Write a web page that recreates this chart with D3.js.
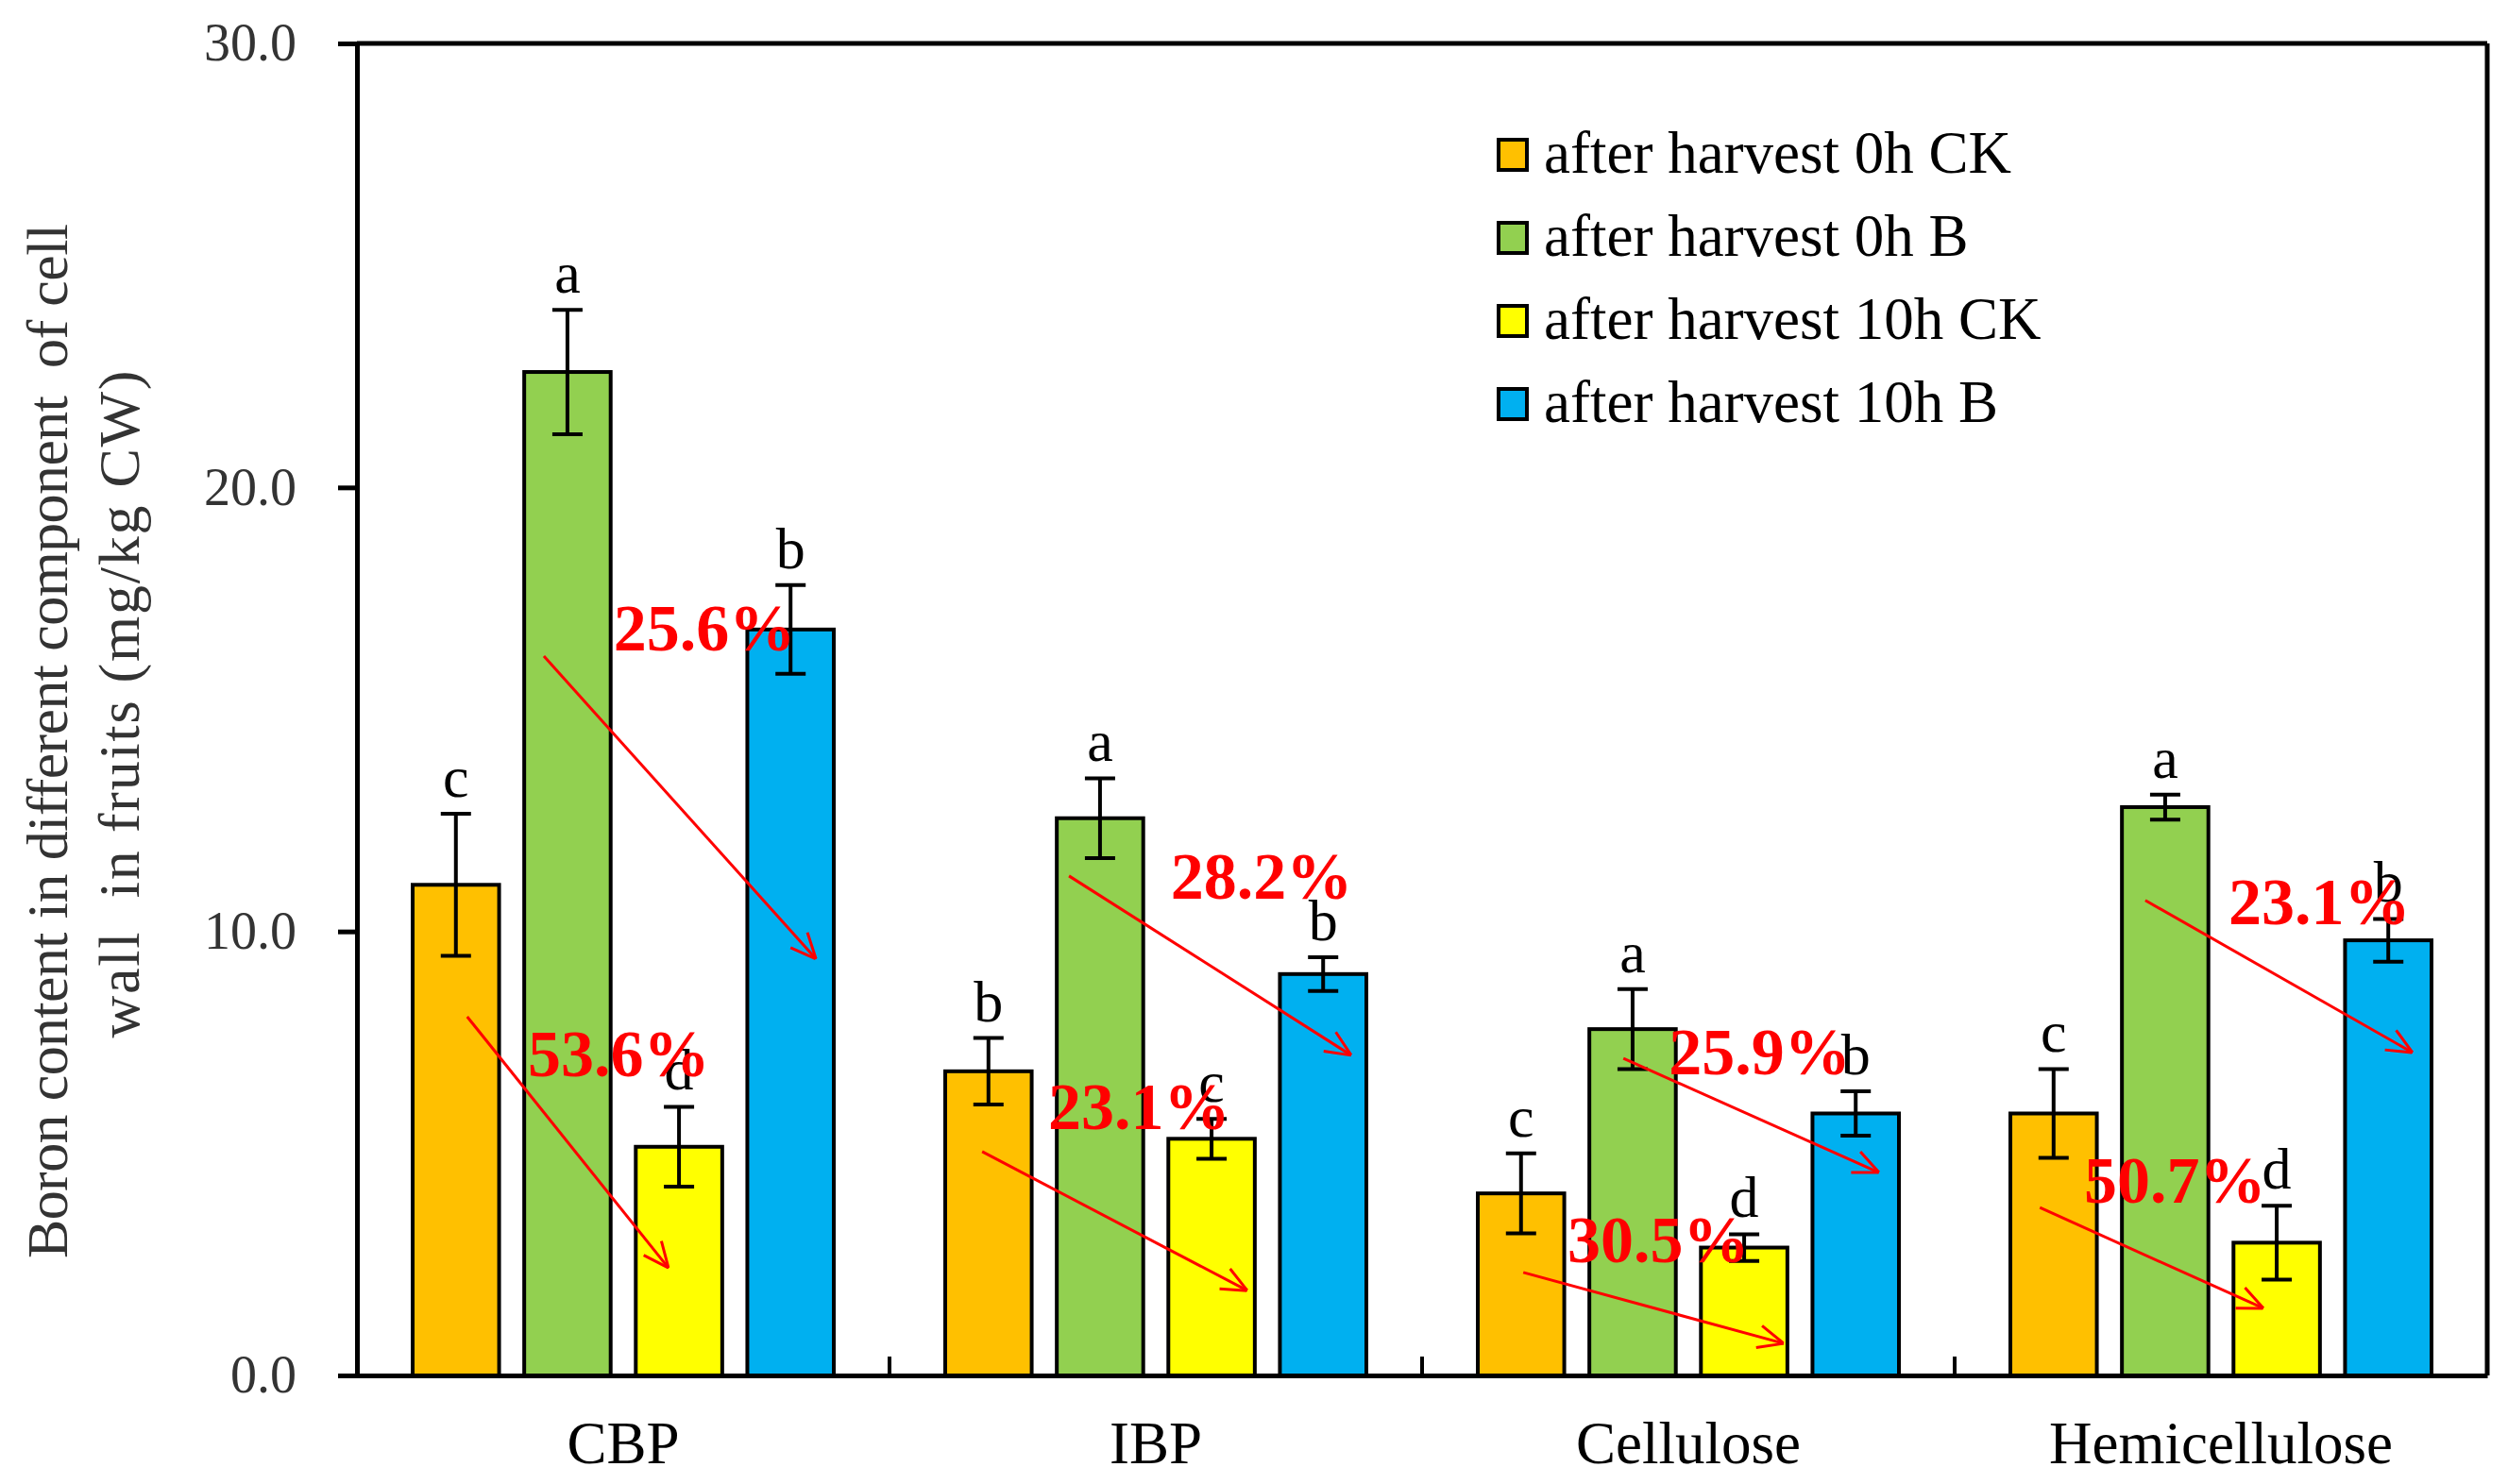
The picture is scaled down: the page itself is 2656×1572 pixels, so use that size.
<!DOCTYPE html>
<html>
<head>
<meta charset="utf-8">
<script src="https://cdn.jsdelivr.net/npm/d3@7"></script>
<style>
  body { margin: 0; background: #fff; }
  text { font-family: "Times New Roman", "Liberation Serif", serif; }
</style>
</head>
<body>
<svg id="chart" width="2656" height="1572"></svg>
<script>
const categories = ["CBP", "IBP", "Cellulose", "Hemicellulose"];
const seriesNames = [
    "after harvest 0h CK",
    "after harvest 0h B",
    "after harvest 10h CK",
    "after harvest 10h B"
];
const seriesColors = ["#FFC000", "#92D050", "#FFFF00", "#00B0F0"];

// means per series, one value per category
const ck0h = [11.05, 6.85, 4.10, 5.90];
const b0h = [22.60, 12.55, 7.80, 12.80];
const ck10h = [5.15, 5.33, 2.88, 2.99];
const b10h = [16.80, 9.04, 5.90, 9.80];

// error bar half lengths
const ck0hErr = [1.60, 0.75, 0.90, 1.00];
const b0hErr = [1.40, 0.90, 0.90, 0.28];
const ck10hErr = [0.90, 0.45, 0.30, 0.83];
const b10hErr = [1.00, 0.38, 0.50, 0.48];

// significance letters
const ck0hSig = ["c", "b", "c", "c"];
const b0hSig = ["a", "a", "a", "a"];
const ck10hSig = ["d", "c", "d", "d"];
const b10hSig = ["b", "b", "b", "b"];

const yTicks = [0, 10, 20, 30];

// decrease annotations: category, label, label position (band fraction, value),
// arrow start and end (band fraction, value)
const pctCategory = [0, 0, 1, 1, 2, 2, 3, 3];
const pctText = ["25.6%", "53.6%", "28.2%", "23.1%", "25.9%", "30.5%", "23.1%", "50.7%"];
const pctLabelFrac = [0.482, 0.321, 0.528, 0.298, 0.463, 0.273, 0.514, 0.243];
const pctLabelValue = [16.33, 6.74, 10.74, 5.55, 6.78, 2.55, 10.16, 3.89];
const arrowFromFrac = [0.351, 0.207, 0.337, 0.174, 0.378, 0.190, 0.358, 0.160];
const arrowFromValue = [16.20, 8.08, 11.25, 5.04, 7.14, 2.32, 10.70, 3.78];
const arrowToFrac = [0.862, 0.585, 0.867, 0.672, 0.858, 0.679, 0.860, 0.580];
const arrowToValue = [9.38, 2.42, 7.21, 1.91, 4.57, 0.72, 7.27, 1.51];

const seriesValues = [ck0h, b0h, ck10h, b10h];
const seriesErrors = [ck0hErr, b0hErr, ck10hErr, b10hErr];
const seriesLetters = [ck0hSig, b0hSig, ck10hSig, b10hSig];

const plotLeft = 378, plotRight = 2634, plotTop = 46, plotBottom = 1457;

const svg = d3.select("#chart");

const x0 = d3.scaleBand()
    .domain(categories)
    .range([plotLeft, plotRight]);

const x1 = d3.scaleBand()
    .domain(d3.range(seriesNames.length))
    .range([59, x0.bandwidth() - 59])
    .paddingInner(0.225);

const y = d3.scaleLinear()
    .domain([0, 30])
    .range([plotBottom, plotTop]);

function bandX(cat, frac) {
    return x0(categories[cat]) + frac * x0.bandwidth();
}

// flat table for bars
const rows = [];
categories.forEach(function (c, ci) {
    seriesNames.forEach(function (s, si) {
        rows.push({
            cat: c,
            series: si,
            value: seriesValues[si][ci],
            err: seriesErrors[si][ci],
            letter: seriesLetters[si][ci]
        });
    });
});

// bars
svg.append("g")
    .selectAll("rect")
    .data(rows)
    .join("rect")
    .attr("x", function (d) { return x0(d.cat) + x1(d.series); })
    .attr("y", function (d) { return y(d.value); })
    .attr("width", x1.bandwidth())
    .attr("height", function (d) { return y(0) - y(d.value); })
    .attr("fill", function (d) { return seriesColors[d.series]; })
    .attr("stroke", "#000")
    .attr("stroke-width", 4);

// error bars
const eb = svg.append("g")
    .attr("stroke", "#000")
    .attr("stroke-width", 4);
rows.forEach(function (d) {
    const cx = x0(d.cat) + x1(d.series) + x1.bandwidth() / 2;
    const y1 = y(d.value + d.err), y2 = y(d.value - d.err);
    eb.append("line").attr("x1", cx).attr("x2", cx).attr("y1", y1).attr("y2", y2);
    eb.append("line").attr("x1", cx - 16).attr("x2", cx + 16).attr("y1", y1).attr("y2", y1);
    eb.append("line").attr("x1", cx - 16).attr("x2", cx + 16).attr("y1", y2).attr("y2", y2);
});

// significance letters
svg.append("g")
    .selectAll("text")
    .data(rows)
    .join("text")
    .attr("x", function (d) { return x0(d.cat) + x1(d.series) + x1.bandwidth() / 2; })
    .attr("y", function (d) { return y(d.value + d.err) - 18; })
    .attr("text-anchor", "middle")
    .attr("font-size", 62)
    .attr("fill", "#000")
    .text(function (d) { return d.letter; });

// arrows
svg.append("defs").append("marker")
    .attr("id", "head")
    .attr("viewBox", "0 0 10 10")
    .attr("refX", 10)
    .attr("refY", 5)
    .attr("markerUnits", "userSpaceOnUse")
    .attr("orient", "auto")
    .attr("markerWidth", 30)
    .attr("markerHeight", 30)
    .append("path")
    .attr("d", "M1,1 L10,5 L1,9")
    .attr("fill", "none")
    .attr("stroke", "#FF0000")
    .attr("stroke-width", 1);

svg.append("g")
    .selectAll("line")
    .data(pctText)
    .join("line")
    .attr("x1", function (d, i) { return bandX(pctCategory[i], arrowFromFrac[i]); })
    .attr("y1", function (d, i) { return y(arrowFromValue[i]); })
    .attr("x2", function (d, i) { return bandX(pctCategory[i], arrowToFrac[i]); })
    .attr("y2", function (d, i) { return y(arrowToValue[i]); })
    .attr("stroke", "#FF0000")
    .attr("stroke-width", 3)
    .attr("marker-end", "url(#head)");

svg.append("g")
    .selectAll("text")
    .data(pctText)
    .join("text")
    .attr("x", function (d, i) { return bandX(pctCategory[i], pctLabelFrac[i]); })
    .attr("y", function (d, i) { return y(pctLabelValue[i]); })
    .attr("font-size", 70)
    .attr("font-weight", "bold")
    .attr("fill", "#FF0000")
    .text(function (d) { return d; });

// frame
svg.append("line")
    .attr("x1", plotLeft).attr("x2", plotRight).attr("y1", plotTop).attr("y2", plotTop)
    .attr("stroke", "#000").attr("stroke-width", 5);
svg.append("line")
    .attr("x1", plotRight).attr("x2", plotRight).attr("y1", plotTop).attr("y2", plotBottom)
    .attr("stroke", "#000").attr("stroke-width", 5);

// y axis
const yAxis = svg.append("g")
    .attr("transform", `translate(${plotLeft}, 0)`)
    .call(d3.axisLeft(y).tickValues(yTicks).tickFormat(d3.format(".1f")).tickSize(20).tickPadding(44));
yAxis.select(".domain").attr("stroke-width", 5);
yAxis.selectAll(".tick line").attr("stroke-width", 5);
yAxis.selectAll(".tick text")
    .attr("font-size", 56)
    .attr("fill", "#333")
    .attr("font-family", "'Times New Roman', 'Liberation Serif', serif");

// x axis
const xAxis = svg.append("g")
    .attr("transform", `translate(0, ${plotBottom})`)
    .call(d3.axisBottom(x0).tickSize(0).tickPadding(48));
xAxis.select(".domain").attr("stroke-width", 5);
xAxis.selectAll(".tick text")
    .attr("font-size", 63)
    .attr("fill", "#000")
    .attr("dy", "0.72em")
    .attr("font-family", "'Times New Roman', 'Liberation Serif', serif");
svg.append("g")
    .selectAll("line")
    .data(categories.slice(1))
    .join("line")
    .attr("x1", function (d) { return x0(d); })
    .attr("x2", function (d) { return x0(d); })
    .attr("y1", plotBottom)
    .attr("y2", plotBottom - 20)
    .attr("stroke", "#000")
    .attr("stroke-width", 4);

// y axis title, two lines
svg.append("text")
    .attr("transform", "translate(71, 785) rotate(-90)")
    .attr("text-anchor", "middle")
    .attr("font-size", 62)
    .attr("fill", "#333")
    .style("white-space", "pre")
    .attr("textLength", 1096)
    .attr("lengthAdjust", "spacing")
    .text("Boron content in different component  of cell");
svg.append("text")
    .attr("transform", "translate(147, 746) rotate(-90)")
    .attr("text-anchor", "middle")
    .attr("font-size", 62)
    .attr("fill", "#333")
    .style("white-space", "pre")
    .attr("textLength", 707)
    .attr("lengthAdjust", "spacing")
    .text("wall  in fruits (mg/kg CW)");

// legend
const legend = svg.append("g")
    .selectAll("g")
    .data(seriesNames)
    .join("g")
    .attr("transform", function (d, i) { return `translate(1587, ${164 + i * 88})`; });
legend.append("rect")
    .attr("x", 0)
    .attr("y", -16)
    .attr("width", 30)
    .attr("height", 32)
    .attr("fill", function (d, i) { return seriesColors[i]; })
    .attr("stroke", "#000")
    .attr("stroke-width", 4);
legend.append("text")
    .attr("x", 48)
    .attr("y", 19)
    .attr("font-size", 63)
    .attr("fill", "#000")
    .text(function (d) { return d; });
</script>
</body>
</html>
